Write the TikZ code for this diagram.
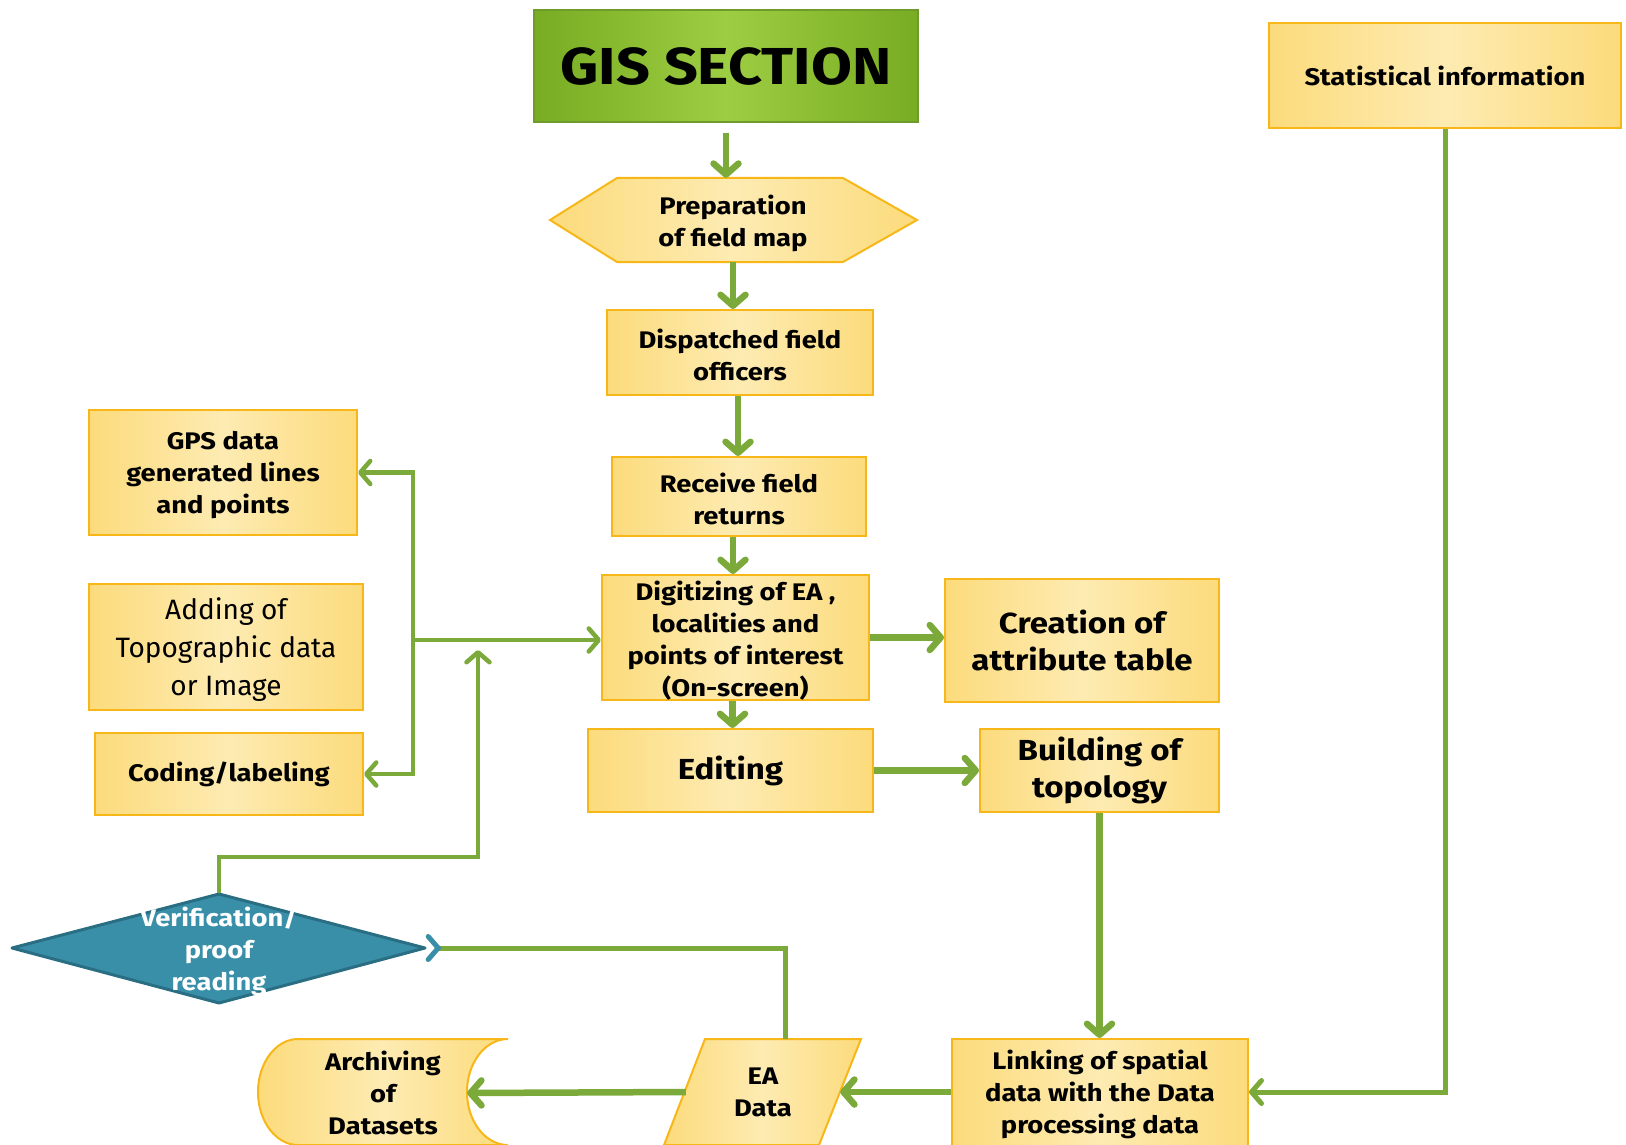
\documentclass[tikz,border=0pt]{standalone}
\usepackage{fontspec}
\setmainfont{Fira Sans}[BoldFeatures={FakeStretch=1.14}]
\usetikzlibrary{arrows.meta}
\definecolor{connG}{HTML}{7BA93A}
\definecolor{ylwL}{HTML}{FDEBB2}
\definecolor{ylwD}{HTML}{FCDB7C}
\definecolor{ylwB}{HTML}{F7B718}
\definecolor{grnL}{HTML}{9DCD42}
\definecolor{grnD}{HTML}{78AC22}
\definecolor{grnB}{HTML}{6F9B2C}
\definecolor{diaF}{HTML}{3A8FA8}
\definecolor{diaB}{HTML}{2A6E84}
\begin{document}
\begin{tikzpicture}[x=1pt,y=1pt,
  yshade/.style={left color=ylwD, right color=ylwD, middle color=ylwL},
  box/.style={draw=ylwB, line width=2pt, yshade, rectangle, inner sep=0pt, align=center,
    font=\bfseries\fontsize{24}{32}\selectfont},
  bigbox/.style={box, font=\bfseries\fontsize{29}{37}\selectfont},
  txt/.style={align=center, inner sep=0pt, font=\bfseries\fontsize{24}{32}\selectfont},
  conn/.style={draw=connG, line width=6.5pt, -{Straight Barb[length=11pt,width=25pt,line cap=round,line join=round]}},
  thinconn/.style={draw=connG, line width=4.5pt, -{Straight Barb[length=10pt,width=23pt,line cap=round,line join=round]}}
]
\useasboundingbox (0,0) rectangle (1626,-1145);
\clip (0,0) rectangle (1626,-1145);

% GIS section
\node[draw=grnB, line width=2pt, left color=grnD, right color=grnD, middle color=grnL,
  minimum width=384, minimum height=112, inner sep=0pt,
  font=\bfseries\fontsize{52}{56}\selectfont] (gis) at (726,-66) {GIS SECTION};

% Preparation hexagon
\draw[draw=ylwB, line width=2pt, yshade] (550,-220) -- (617,-178) -- (843,-178) -- (917,-220)
  -- (843,-262) -- (617,-262) -- cycle;
\node[txt, minimum width=226, minimum height=84] (prep) at (733,-220) {};
\node[txt] (preptxt) at (733,-223) {Preparation\\of field map};

% Centre column
\node[box, minimum width=266, minimum height=85] (disp) at (740,-352.5) {};
\node[txt] (disptxt) at (740,-355) {Dispatched field\\officers};
\node[box, minimum width=254, minimum height=79] (recv) at (739,-496.5) {};
\node[txt] (recvtxt) at (739,-499) {Receive field\\returns};
\node[box, minimum width=267, minimum height=125] (dig) at (735.5,-637.5) {};
\node[txt] (digtxt) at (735.5,-641) {Digitizing of EA ,\\localities and\\points of interest\\(On-screen)};
\node[bigbox, minimum width=274, minimum height=123] (crea) at (1082,-640.5) {Creation of\\attribute table};
\node[bigbox, minimum width=285, minimum height=83] (edit) at (730.5,-770.5) {Editing};
\node[bigbox, minimum width=239, minimum height=83] (build) at (1099.5,-770.5) {Building of\\topology};

% Left column
\node[box, minimum width=268, minimum height=125] (gps) at (223,-472.5) {};
\node[txt] (gpstxt) at (223,-475.5) {GPS data\\generated lines\\and points};
\node[box, minimum width=274, minimum height=126] (add) at (226,-647) {};
\node[txt, font=\fontsize{28}{38}\selectfont] (addtxt) at (226,-650) {Adding of\\Topographic data\\or Image};
\node[box, minimum width=268, minimum height=82] (cod) at (229,-774) {Coding/labeling};

% Statistical information
\node[box, minimum width=352, minimum height=105] (stat) at (1445,-75.5) {Statistical information};

% Verification diamond
\draw[draw=diaB, line width=3pt, fill=diaF, line join=round]
  (12,-948) -- (219,-894) -- (425,-948) -- (219,-1003) -- cycle;
\node[txt, minimum width=413, minimum height=109] (ver) at (219,-948) {};
\node[txt, text=white] (vertxt) at (219,-951) {Verification/\\proof\\reading};

% Bottom row
\node[box, minimum width=296, minimum height=110] (link) at (1100,-1094)
  {Linking of spatial\\data with the Data\\processing data};
\draw[draw=ylwB, line width=2pt, yshade] (705,-1039) -- (861,-1039) -- (819,-1145) -- (664,-1145) -- cycle;
\node[txt, minimum width=154, minimum height=106] (ea) at (763,-1092) {EA\\Data};
\draw[draw=ylwB, line width=2pt, yshade] (298,-1039) -- (508,-1039) arc[start angle=90, end angle=270,
  x radius=41, y radius=53] -- (298,-1145) arc[start angle=270, end angle=90, x radius=40, y radius=53] -- cycle;
\node[txt, minimum width=168, minimum height=106] (arch) at (383,-1093) {Archiving\\of\\Datasets};

% Connectors
\draw[conn, shorten <=10pt] (gis.south) -- (gis.south |- prep.north);
\draw[conn] (prep.south) -- (prep.south |- disp.north);
\draw[conn] ([xshift=-2pt]disp.south) -- ([xshift=-2pt]disp.south |- recv.north);
\draw[conn] ([xshift=-6pt]recv.south) -- ([xshift=-6pt]recv.south |- dig.north);
\draw[conn] ([xshift=-3pt]dig.south) -- ([xshift=-3pt]dig.south |- edit.north);
\draw[conn] (dig.east) -- (dig.east -| crea.west);
\draw[conn] (edit.east) -- (edit.east -| build.west);
\draw[conn] (build.south) -- (build.south |- link.north);
\draw[thinconn, line width=5pt] (stat.south) |- ([yshift=2pt]link.east);
\draw[conn] ([yshift=2pt]link.west) -- (ea.east);
\draw[conn] (ea.west) -- (arch.east);
\draw[draw=connG, line width=5pt, {Straight Barb[reversed, color=diaF, length=10pt, width=23pt, line cap=round]}-]
  (ver.east) -| ([xshift=22pt]ea.north);

% Left junction
\coordinate (jn) at (413,-640);
\draw[thinconn] (jn) -- (jn -| dig.west);
\draw[thinconn] (jn) |- (gps.east);
\draw[thinconn] (jn) |- (cod.east);

% Verification feedback loop
\coordinate (vcorner) at (478,-857);
\coordinate (vtip) at (478,-650);
\draw[thinconn] (ver.north) |- (vcorner) -- (vtip);
\end{tikzpicture}
\end{document}
